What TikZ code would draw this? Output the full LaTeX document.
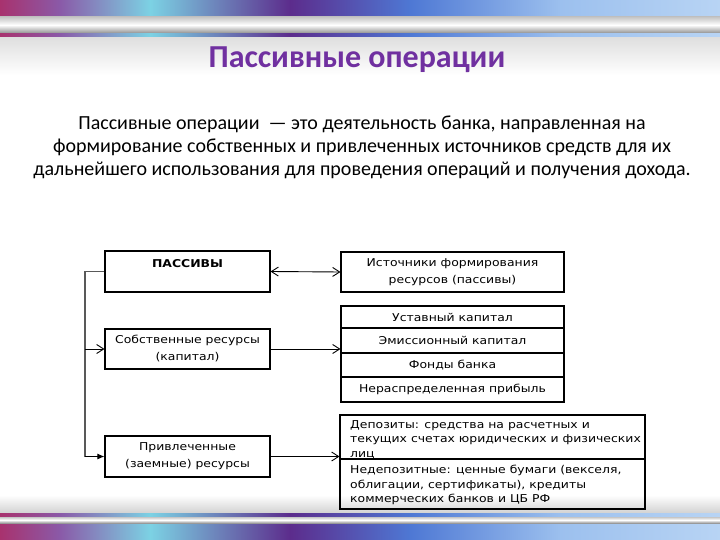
\documentclass[tikz,border=0pt]{standalone}
\usepackage{fontspec}
\setmainfont{Carlito}
\newfontfamily\boxfont[FakeStretch=1.15]{DejaVu Sans}
\usepackage{tikz}
\usetikzlibrary{arrows.meta}

\definecolor{titlepurple}{HTML}{7030A0}
\definecolor{bandA}{HTML}{A8326E}
\definecolor{bandB}{HTML}{8A5AA8}
\definecolor{bandC}{HTML}{7CD2E4}
\definecolor{bandD}{HTML}{5C2C8C}
\definecolor{bandE}{HTML}{4E78D4}
\definecolor{bandF}{HTML}{9CC0EE}
\definecolor{bandG}{HTML}{B8D4F4}

\tikzset{
  box/.style={draw, line width=1.1pt, minimum width=165pt, minimum height=41pt,
    inner sep=2pt, align=center, font=\boxfont\fontsize{10.8}{17}\selectfont},
  rowbox/.style={box, minimum width=223pt, minimum height=#1},
  link/.style={line width=0.9pt, -{Straight Barb[length=7pt, width=9pt]}},
}

\newcommand{\colorband}[2]{%
  \foreach \xa/\xb/\ca/\cb in {0/60/bandA/bandB, 60/150/bandB/bandC, 150/290/bandC/bandD,
      290/410/bandD/bandE, 410/560/bandE/bandF, 560/720/bandF/bandG}
    {\fill[left color=\ca, right color=\cb] (\xa,#1) rectangle (\xb+0.5,#2);}}

\begin{document}
\begin{tikzpicture}[x=1pt, y=-1pt]
    \useasboundingbox (0,0) rectangle (720,540);
    \fill[white] (0,0) rectangle (720,540);

    % Top and bottom bands
    \colorband{0}{38}
    \fill[top color=gray!25, bottom color=white] (0,38) rectangle (720,75);
    \fill[top color=gray!45, bottom color=gray!85, middle color=white] (0,17) rectangle (720,33);
    \fill[top color=white, bottom color=gray!35] (0,495) rectangle (720,513);
    \colorband{513}{540}
    \fill[top color=gray!45, bottom color=gray!80, middle color=white] (0,517) rectangle (720,523);

    % Title and definition
    \node[anchor=base, font=\bfseries\fontsize{32}{38}\selectfont, text=titlepurple] (title) at (357,68) {Пассивные операции};
    \node[align=center, font=\fontsize{20}{23}\selectfont] (defn) at (362,147)
      {Пассивные операции~~— это деятельность банка, направленная на\\
       формирование собственных и привлеченных источников средств для их\\
       дальнейшего использования для проведения операций и получения дохода.};

    % Left column
    \node[box] (passiv) at (187.5,271.5) {\textbf{ПАССИВЫ}\\\mbox{}};
    \node[box, minimum height=40pt] (sobst) at (187.5,349) {Собственные ресурсы\\(капитал)};
    \node[box] (privl) at (187.5,456.5) {Привлеченные\\(заемные) ресурсы};

    % Right column
    \node[box, minimum width=223pt, minimum height=40pt] (istoch) at (452.5,272) {Источники формирования\\ресурсов (пассивы)};
    \node[rowbox=22pt] (ustav) at (452.5,317) {Уставный капитал};
    \node[rowbox=25pt] (emis) at (452.5,340.5) {Эмиссионный капитал};
    \node[rowbox=24pt] (fond) at (452.5,365) {Фонды банка};
    \node[rowbox=25pt] (nerasp) at (452.5,389.5) {Нераспределенная прибыль};

    \node[draw, line width=1.1pt, minimum width=305pt, minimum height=44pt] (depo) at (492.5,437) {};
    \node[draw, line width=1.1pt, minimum width=305pt, minimum height=50pt] (nedepo) at (492.5,484) {};
    \node[anchor=north west, align=left, inner sep=0pt, font=\boxfont\fontsize{10.8}{14.5}\selectfont] (depotext) at (350,420)
      {Депозиты: средства на расчетных и\\текущих счетах юридических и физических\\лиц};
    \node[anchor=north west, align=left, inner sep=0pt, font=\boxfont\fontsize{10.8}{14.5}\selectfont] (nedepotext) at (350,465)
      {Недепозитные: ценные бумаги (векселя,\\облигации, сертификаты), кредиты\\коммерческих банков и ЦБ РФ};
    \draw[line width=1.1pt] (depo.south west) -- (depo.south east);

    % Connectors
    \coordinate (trunk) at (85,271.5);
    \draw[link, {Straight Barb[length=7pt, width=9pt]}-{Straight Barb[length=7pt, width=9pt]}] (passiv.east) -- (istoch.west);
    \draw[link] (sobst.east) -- (sobst.east -| ustav.west);
    \draw[link] (privl.east) -- (privl.east -| depo.west);
    \draw[line width=1.5pt, gray!70!black] (passiv.west) -- (trunk) -- (trunk |- privl.west);
    \draw[link] (trunk |- sobst.west) -- (sobst.west);
    \draw[line width=0.9pt, -{Latex[length=7pt, width=6pt]}] (trunk |- privl.west) -- (privl.west);
\end{tikzpicture}
\end{document}
